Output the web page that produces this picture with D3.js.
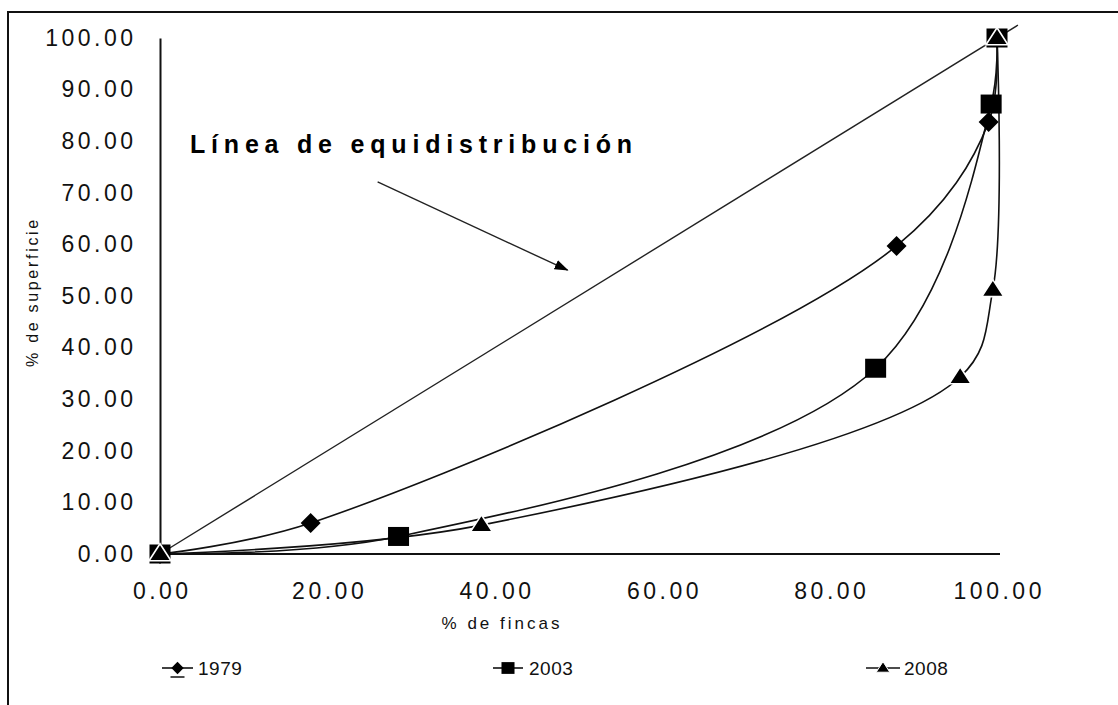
<!DOCTYPE html>
<html><head><meta charset="utf-8">
<script src="https://cdn.jsdelivr.net/npm/d3@7"></script>
<style>body{margin:0;background:#fff}svg{display:block}</style>
</head><body>
<svg id="c" width="1118" height="705"></svg>
<script>
// ---- data ----
const xTicks = [0, 20, 40, 60, 80, 100];
const yTicks = [0, 10, 20, 30, 40, 50, 60, 70, 80, 90, 100];
const x1979 = [0, 18.0, 88.0, 99.0, 100];
const y1979 = [0, 6.0, 59.7, 83.7, 100];
const x2003 = [0, 28.5, 85.5, 99.3, 100];
const y2003 = [0, 3.4, 36.0, 87.2, 100];
const x2008 = [0, 38.4, 95.6, 99.5, 100];
const y2008 = [0, 5.6, 34.3, 51.2, 100];
const xEqual = [0, 102.5];
const yEqual = [0, 102.5];
const seriesNames = ["1979", "2003", "2008"];
const xTitle = "% de fincas";
const yTitle = "% de superficie";
const annotation = "Línea de equidistribución";
const arrowFrom = [26.0, 72.1];
const arrowTo = [48.7, 55.0];

// ---- layout ----
const svg = d3.select("#c");
const x = d3.scaleLinear([0, 100], [160, 997]);
const y = d3.scaleLinear([0, 100], [554, 38]);
const fmt = d3.format(".2f");
const tickFont = "'Liberation Sans', Arial, sans-serif";

// outer frame
svg.append("rect").attr("x", 8).attr("y", 12).attr("width", 1200).attr("height", 800)
  .attr("fill", "none").attr("stroke", "#111").attr("stroke-width", 2);

// axes
const gy = svg.append("g").attr("transform", `translate(${x(0)},0)`)
  .call(d3.axisLeft(y).tickValues(yTicks).tickSize(0).tickPadding(23.5).tickFormat(fmt));
const gx = svg.append("g").attr("transform", `translate(0,${y(0)})`)
  .call(d3.axisBottom(x).tickValues(xTicks).tickSize(0).tickPadding(29).tickFormat(fmt));
[gx, gy].forEach(g => {
  g.select(".domain").attr("stroke", "#111").attr("stroke-width", 2);
  g.selectAll("text").attr("font-family", tickFont).attr("font-size", 23)
    .attr("letter-spacing", 3.5).attr("fill", "#111");
});
gx.select(".domain").attr("d", `M${x(0)},0H${x(100) + 3}`);
gx.selectAll("text").attr("dx", 1.75);

// axis titles
svg.append("text").attr("x", 502).attr("y", 629).attr("text-anchor", "middle")
  .attr("font-family", tickFont).attr("font-size", 17).attr("letter-spacing", 3)
  .attr("fill", "#111").text(xTitle);
svg.append("text").attr("transform", "translate(38,292) rotate(-90)").attr("text-anchor", "middle")
  .attr("font-family", tickFont).attr("font-size", 16).attr("letter-spacing", 2.7)
  .attr("fill", "#111").text(yTitle);

// equidistribution line
const line = d3.line().x(d => x(d[0])).y(d => y(d[1]));
svg.append("path").datum(d3.zip(xEqual, yEqual)).attr("d", line)
  .attr("fill", "none").attr("stroke", "#222").attr("stroke-width", 1.4);

// series curves
const smooth = d3.line().x(d => x(d[0])).y(d => y(d[1])).curve(d3.curveCatmullRom.alpha(0.5));
const series = [
  {name: seriesNames[0], pts: d3.zip(x1979, y1979), shape: "diamond"},
  {name: seriesNames[1], pts: d3.zip(x2003, y2003), shape: "square"},
  {name: seriesNames[2], pts: d3.zip(x2008, y2008), shape: "triangle"}
];
series.forEach(s => {
  svg.append("path").datum(s.pts).attr("d", smooth)
    .attr("fill", "none").attr("stroke", "#111").attr("stroke-width", 1.6);
});

function marker(g, shape, cx, cy, k) {
  if (shape === "diamond") {
    const w = 10 * k, h = 10 * k;
    g.append("path").attr("d", `M${cx},${cy - h}L${cx + w},${cy}L${cx},${cy + h}L${cx - w},${cy}Z`)
      .attr("fill", "#000");
  } else if (shape === "square") {
    const w = 21 * k, h = 19 * k;
    g.append("rect").attr("x", cx - w / 2).attr("y", cy - h / 2).attr("width", w).attr("height", h)
      .attr("fill", "#000");
  } else {
    const w = 11 * k, h = 17 * k;
    g.append("path").attr("d", `M${cx},${cy - h * 0.6}L${cx + w},${cy + h * 0.4}L${cx - w},${cy + h * 0.4}Z`)
      .attr("fill", "#000").attr("stroke", "#fff").attr("stroke-width", 1.6 * k);
  }
}
const mg = svg.append("g");
series.forEach(s => s.pts.forEach(p => marker(mg, s.shape, x(p[0]), y(p[1]), 1)));

// annotation
svg.append("text").attr("x", 190).attr("y", 153)
  .attr("font-family", tickFont).attr("font-size", 25).attr("font-weight", "bold")
  .attr("letter-spacing", 5.8).attr("fill", "#000").text(annotation);
svg.append("defs").append("marker").attr("id", "ah").attr("markerUnits", "userSpaceOnUse")
  .attr("markerWidth", 14).attr("markerHeight", 10).attr("refX", 13).attr("refY", 5)
  .attr("orient", "auto")
  .append("path").attr("d", "M0,0L14,5L0,10Z").attr("fill", "#000");
svg.append("line").attr("x1", x(arrowFrom[0])).attr("y1", y(arrowFrom[1]))
  .attr("x2", x(arrowTo[0])).attr("y2", y(arrowTo[1]))
  .attr("stroke", "#222").attr("stroke-width", 1.4).attr("marker-end", "url(#ah)");

// legend
const legendPos = [[162, 193, 198], [493, 523, 529], [866, 900, 904]];
const ly = 668;
series.forEach((s, i) => {
  const [a, b, t] = legendPos[i];
  const g = svg.append("g");
  g.append("line").attr("x1", a).attr("x2", b).attr("y1", ly).attr("y2", ly)
    .attr("stroke", "#111").attr("stroke-width", 1.6);
  marker(g, s.shape, (a + b) / 2, ly, 0.62);
  if (s.shape === "diamond") {
    g.append("line").attr("x1", (a + b) / 2 - 7).attr("x2", (a + b) / 2 + 7)
      .attr("y1", ly + 9).attr("y2", ly + 9).attr("stroke", "#111").attr("stroke-width", 1.5);
  }
  g.append("text").attr("x", t).attr("y", ly + 7).attr("font-family", tickFont)
    .attr("font-size", 19).attr("letter-spacing", 0.5).attr("fill", "#111").text(s.name);
});
</script>
</body></html>
